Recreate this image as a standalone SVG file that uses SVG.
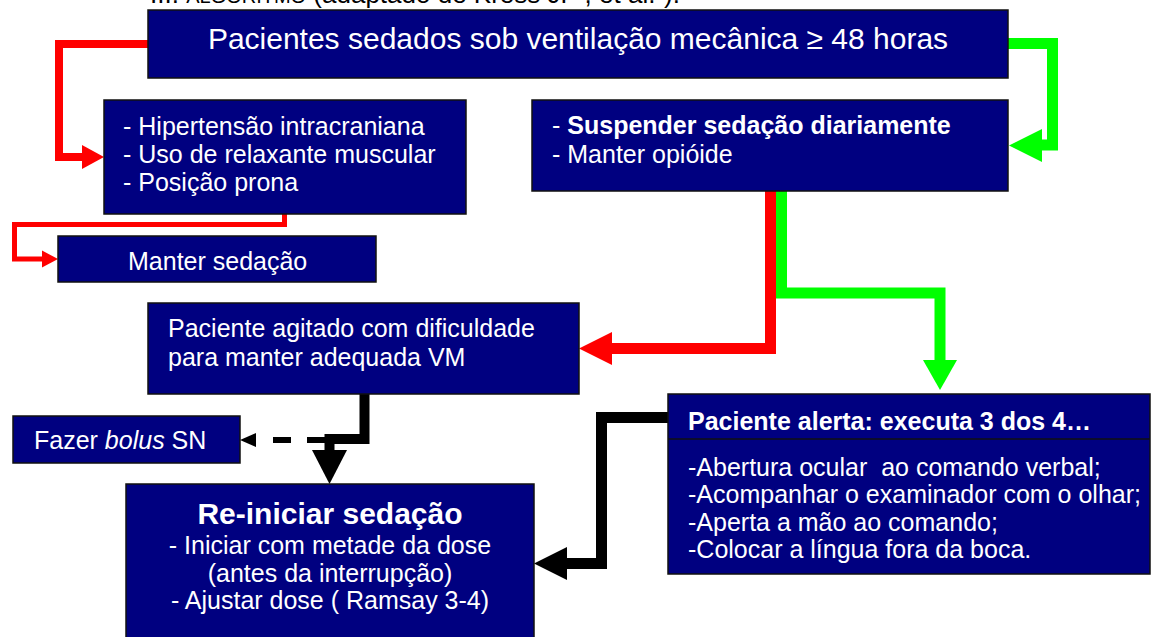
<svg xmlns="http://www.w3.org/2000/svg" width="1154" height="637" viewBox="0 0 1154 637">
<style>
.box{fill:#000080;stroke:#111;stroke-width:1.5}
.t{font-family:"Liberation Sans",Arial,sans-serif;fill:#fff;font-size:25px}
.b{font-weight:bold}
.red{fill:none;stroke:#ff0000;stroke-linejoin:miter}
.grn{fill:none;stroke:#00ff00;stroke-linejoin:miter}
.blk{fill:none;stroke:#000;stroke-linejoin:miter}
.rh{fill:#ff0000}
.gh{fill:#00ff00}
.kh{fill:#000}
</style>
<rect width="1154" height="637" fill="#fff"/>
<text x="150" y="3" style="font-family:'Liberation Sans',Arial,sans-serif;font-size:26px;fill:#000">III. <tspan style="font-size:20px">ALGORITMO</tspan> (adaptado de Kress JP , et al.²).</text>
<g id="connectors">
  <path class="red" stroke-width="8" d="M148,44 H59 V157 H84"/>
  <polygon class="rh" points="82,145 104,157 82,169"/>
  <path class="grn" stroke-width="11" d="M1008,43.5 H1052.5 V145 H1040"/>
  <polygon class="gh" points="1042,129 1009,145.5 1042,162"/>
  <path class="red" stroke-width="5" d="M284.5,214 V224.5 H14.5 V259 H44"/>
  <polygon class="rh" points="42,250.5 58,259 42,267.5"/>
  <path class="grn" stroke-width="11" d="M781.5,191 V293 H940 V362"/>
  <polygon class="gh" points="923,360 957,360 940,390"/>
  <path class="red" stroke-width="11" d="M770.5,191 V348.5 H610"/>
  <polygon class="rh" points="612,332 579,348.5 612,365"/>
  <path class="blk" stroke-width="10" d="M364.5,394 V439 H329.5 V452"/>
  <polygon class="kh" points="312,450 347,450 329.5,484"/>
  <path class="blk" stroke-width="6" stroke-dasharray="18 16" d="M325,440 H257"/>
  <polygon class="kh" points="256,433 240,440 256,447"/>
  <path class="blk" stroke-width="11" d="M668,417.5 H601.5 V563.5 H565"/>
  <polygon class="kh" points="567,547 534,563.5 567,580"/>
</g>
<g id="n-top">
  <rect class="box" x="148" y="10" width="860" height="68"/>
  <text class="t" x="578" y="49" text-anchor="middle" style="font-size:30px">Pacientes sedados sob ventilação mecânica ≥ 48 horas</text>
</g>
<g id="n-contra">
  <rect class="box" x="104" y="100" width="362" height="114"/>
  <text class="t" x="123" y="135">- Hipertensão intracraniana</text>
  <text class="t" x="123" y="163">- Uso de relaxante muscular</text>
  <text class="t" x="123" y="191">- Posição prona</text>
</g>
<g id="n-suspender">
  <rect class="box" x="532" y="100" width="476" height="91"/>
  <text class="t" x="552" y="134">- <tspan class="b">Suspender sedação diariamente</tspan></text>
  <text class="t" x="552" y="163">- Manter opióide</text>
</g>
<g id="n-manter">
  <rect class="box" x="58" y="236" width="318" height="46"/>
  <text class="t" x="128" y="270">Manter sedação</text>
</g>
<g id="n-agitado">
  <rect class="box" x="148" y="303" width="431" height="91"/>
  <text class="t" x="168" y="337">Paciente agitado com dificuldade</text>
  <text class="t" x="168" y="366">para manter adequada VM</text>
</g>
<g id="n-bolus">
  <rect class="box" x="13" y="416" width="227" height="47"/>
  <text class="t" x="34" y="449">Fazer <tspan font-style="italic">bolus</tspan> SN</text>
</g>
<g id="n-alerta">
  <rect class="box" x="668" y="394" width="482" height="180"/>
  <line x1="668" y1="439" x2="1150" y2="439" stroke="#111" stroke-width="1.5"/>
  <text class="t b" x="688" y="430">Paciente alerta: executa 3 dos 4…</text>
  <text class="t" x="688" y="476">-Abertura ocular&#160; ao comando verbal;</text>
  <text class="t" x="688" y="503">-Acompanhar o examinador com o olhar;</text>
  <text class="t" x="688" y="531">-Aperta a mão ao comando;</text>
  <text class="t" x="688" y="558">-Colocar a língua fora da boca.</text>
</g>
<g id="n-reiniciar">
  <rect class="box" x="126" y="484" width="408" height="160"/>
  <text class="t b" x="330" y="524" text-anchor="middle" style="font-size:30px">Re-iniciar sedação</text>
  <text class="t" x="330" y="554" text-anchor="middle">- Iniciar com metade da dose</text>
  <text class="t" x="330" y="582" text-anchor="middle">(antes da interrupção)</text>
  <text class="t" x="330" y="609" text-anchor="middle">- Ajustar dose ( Ramsay 3-4)</text>
</g>
</svg>
